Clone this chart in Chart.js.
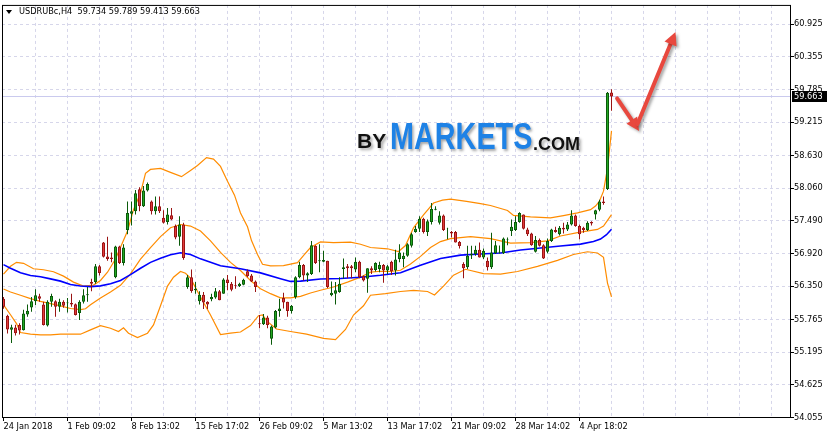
<!DOCTYPE html>
<html>
<head>
<meta charset="utf-8">
<script src="https://cdn.jsdelivr.net/npm/chart.js@4.4.1/dist/chart.umd.min.js"></script>
<style>
  html, body { margin:0; padding:0; background:#fff; }
  #wrap { position:relative; width:830px; height:439px; overflow:hidden; background:#fff; }
  #chart { position:absolute; left:0; top:0; }
  .title { position:absolute; left:19px; top:7px; font-family:'DejaVu Sans', sans-serif; font-size:8.2px; line-height:1; color:#000; white-space:pre; }
  .tri { position:absolute; left:6px; top:10px; width:0; height:0; border-left:3px solid transparent; border-right:3px solid transparent; border-top:4px solid #000; }
  .logo { position:absolute; line-height:1; font-family:'Liberation Sans', Arial, sans-serif; font-weight:bold; white-space:pre; text-shadow:2px 2px 3px rgba(0,0,0,0.35); }
</style>
</head>
<body>
<div id="wrap">
  <canvas id="chart" width="830" height="439"></canvas>
  <div class="tri"></div>
  <div class="title" id="title"></div>
  <span class="logo" style="left:357px;top:130px;font-size:21px;color:#111;">BY</span>
  <span class="logo" style="left:390px;top:118.5px;font-size:36px;color:#1e82e6;transform:scaleX(0.8);transform-origin:0 0;">MARKETS</span>
  <span class="logo" style="left:533px;top:135px;font-size:18px;color:#111;">.COM</span>
</div>
<script>
const symbol = 'USDRUBc,H4';

// H4 candles, one per bar
const candleOpen = [
  56.131,55.833,55.586,55.626,55.672,55.579,55.855,55.977,56.087,56.173,
  56.028,55.660,56.075,56.087,55.989,56.075,56.049,56.057,56.035,55.880,
  56.075,56.190,56.420,56.420,56.696,57.110,56.869,56.852,56.506,57.041,
  56.753,57.330,57.616,57.657,58.042,57.743,58.020,57.830,57.657,57.743,
  57.542,57.468,57.588,57.399,57.214,57.426,56.334,56.506,56.277,56.087,
  56.201,56.075,56.121,56.149,56.259,56.218,56.466,56.391,56.368,56.351,
  56.373,56.610,56.536,56.432,55.700,55.683,55.804,55.431,55.626,55.914,
  56.144,56.075,55.914,56.161,56.506,56.718,56.536,56.563,57.053,56.783,
  56.777,56.794,56.190,56.218,56.247,56.650,56.696,56.696,56.639,56.777,
  56.524,56.477,56.662,56.632,56.650,56.718,56.622,56.777,56.622,56.822,
  56.822,56.881,57.053,57.295,57.352,57.525,57.295,57.468,57.685,57.456,
  57.582,57.347,57.295,57.295,57.122,56.736,56.679,56.891,56.909,56.984,
  56.852,56.794,56.679,56.926,56.938,56.926,57.162,57.312,57.330,57.468,
  57.599,57.340,57.271,56.950,57.157,57.064,56.950,57.140,57.330,57.254,
  57.370,57.340,57.426,57.582,57.398,57.370,57.330,57.468,57.599,57.685,
  57.830,58.048,59.734
];
const candleHigh = [
  56.161,55.850,55.677,55.677,55.700,55.937,56.028,56.161,56.294,56.218,
  56.075,56.104,56.218,56.104,56.131,56.104,56.144,56.218,56.045,56.104,
  56.294,56.334,56.477,56.736,56.718,57.122,57.214,56.938,57.053,57.053,
  57.081,57.830,57.830,58.030,58.077,58.099,58.158,57.847,57.916,57.916,
  57.675,57.715,57.715,57.426,57.571,57.456,56.546,56.639,56.420,56.259,
  56.247,56.087,56.218,56.316,56.282,56.489,56.546,56.420,56.524,56.408,
  56.477,56.639,56.563,56.449,55.845,55.862,55.833,55.660,55.931,56.131,
  56.235,56.075,56.018,56.524,56.777,56.736,56.593,57.140,57.064,57.081,
  56.967,56.794,56.432,56.420,56.506,56.834,56.736,56.718,56.852,56.794,
  56.536,56.662,56.696,56.765,56.777,56.736,56.718,56.794,56.984,57.081,
  56.938,57.099,57.283,57.398,57.571,57.542,57.513,57.801,57.744,57.657,
  57.599,57.370,57.312,57.312,57.140,56.765,57.053,57.053,57.053,57.110,
  57.007,56.852,57.283,57.140,57.059,57.197,57.197,57.513,57.571,57.640,
  57.599,57.370,57.283,57.226,57.180,57.081,57.180,57.352,57.386,57.398,
  57.456,57.468,57.675,57.599,57.426,57.386,57.485,57.485,57.685,57.858,
  57.916,59.740,59.789
];
const candleLow = [
  55.954,55.522,55.355,55.488,55.505,55.574,55.816,55.902,56.018,56.075,
  55.660,55.643,55.989,55.816,55.902,55.971,55.890,55.989,55.838,55.759,
  56.045,56.075,56.259,56.391,56.536,56.852,56.794,56.765,56.489,56.736,
  56.708,57.254,57.409,57.599,57.657,57.731,58.003,57.599,57.599,57.628,
  57.444,57.426,57.502,57.167,57.053,56.812,56.304,56.235,56.218,56.028,
  55.949,55.949,56.087,56.131,56.104,56.218,56.277,56.259,56.304,56.334,
  56.363,56.506,56.420,56.247,55.614,55.672,55.614,55.327,55.614,55.816,
  55.959,55.816,55.873,56.131,56.489,56.449,56.420,56.546,56.736,56.593,
  56.765,56.316,56.173,56.028,56.235,56.477,56.489,56.489,56.593,56.489,
  56.432,56.235,56.563,56.605,56.593,56.408,56.563,56.546,56.536,56.765,
  56.679,56.864,57.024,57.283,57.295,57.271,57.226,57.426,57.675,57.426,
  57.312,57.167,57.197,57.110,57.007,56.489,56.650,56.822,56.881,56.852,
  56.822,56.622,56.650,56.909,56.921,56.909,57.064,57.226,57.312,57.456,
  57.340,57.226,57.053,56.938,57.041,56.822,56.926,57.122,57.283,57.236,
  57.271,57.312,57.409,57.386,57.167,57.283,57.312,57.409,57.513,57.657,
  57.772,58.030,59.413
];
const candleClose = [
  55.989,55.592,55.631,55.528,55.574,55.873,55.919,56.087,56.190,56.131,
  55.672,56.075,56.178,55.989,56.075,56.006,56.066,56.028,55.845,56.075,
  56.190,56.208,56.391,56.696,56.581,56.864,56.822,56.822,57.041,56.753,
  57.024,57.628,57.657,57.973,57.743,58.020,58.134,57.657,57.743,57.657,
  57.456,57.599,57.513,57.197,57.426,56.840,56.506,56.265,56.304,56.201,
  56.063,56.028,56.161,56.259,56.104,56.466,56.403,56.287,56.356,56.391,
  56.460,56.524,56.432,56.334,55.683,55.804,55.672,55.643,55.914,55.959,
  56.063,55.914,56.006,56.506,56.718,56.536,56.575,57.064,56.753,56.800,
  56.805,56.334,56.235,56.277,56.391,56.679,56.662,56.662,56.777,56.506,
  56.449,56.662,56.622,56.753,56.718,56.622,56.696,56.610,56.817,56.938,
  56.881,57.081,57.254,57.352,57.525,57.295,57.485,57.697,57.702,57.582,
  57.330,57.352,57.271,57.110,57.050,56.662,56.881,56.909,56.984,56.852,
  56.967,56.679,56.938,57.064,56.950,57.180,57.167,57.386,57.468,57.628,
  57.352,57.254,57.064,57.157,57.053,56.834,57.140,57.340,57.295,57.370,
  57.340,57.426,57.582,57.398,57.254,57.330,57.456,57.444,57.675,57.830,
  57.801,59.729,59.663
];

// indicator lines: bar position and value
const maBars = [0,1.75,4.25,6.75,9.25,11.75,14.25,16.75,19.25,21.75,24.25,26.75,29.25,31.75,34.25,36.75,39.25,41.75,44.25,46.75,49.25,54.25,59.25,64.25,69.25,71.75,74.25,79.25,84.25,89.25,94.25,99.25,104.25,109.25,114.25,119.25,124.25,129.25,134.25,139.25,144.25,147.5,149.25,150.75,152];
const maValues = [56.725,56.662,56.584,56.536,56.515,56.477,56.437,56.377,56.351,56.342,56.354,56.391,56.449,56.550,56.662,56.765,56.838,56.898,56.933,56.903,56.826,56.705,56.653,56.581,56.480,56.432,56.437,56.475,56.484,56.506,56.541,56.584,56.713,56.834,56.891,56.912,56.929,56.981,57.015,57.050,57.084,57.128,57.171,57.248,57.343];

const upperBars = [0,1.75,3.25,5,7.5,10,12.5,15,17.5,20,22.5,24.25,26,28,31,32.5,34.25,35.5,36.75,39.25,41.75,44.5,46.75,48.5,50.75,52.5,54.25,56,57.75,59.25,61,62,63.5,64.75,66.75,70,73.5,75.25,76.75,79.25,82.5,86.75,89.25,91.75,96,98.75,100.5,102.5,105,107.5,109.75,111.75,115.75,119.25,121.75,126,127.5,131.75,136.75,140,143.5,146.75,148,149,150,151,152];
const upperValues = [56.558,56.696,56.765,56.748,56.653,56.636,56.601,56.524,56.420,56.351,56.368,56.449,56.593,56.822,57.312,57.685,57.973,58.319,58.388,58.405,58.336,58.262,58.370,58.457,58.595,58.569,58.440,58.180,57.939,57.628,57.386,57.145,56.903,56.731,56.705,56.708,56.760,56.903,57.024,57.122,57.110,57.119,57.081,57.024,57.002,56.955,57.059,57.369,57.594,57.801,57.853,57.870,57.830,57.792,57.758,57.671,57.585,57.559,57.542,57.582,57.628,57.685,57.749,57.835,58.008,58.405,59.061];

const midBars = [0,1.75,4.25,6.75,9.25,11.75,14.25,16.75,19.25,20.5,21.75,24.25,26.75,29.25,31.75,34.25,36.75,39.25,41.75,44.25,46.75,49.25,51.75,54.25,56.75,59.25,61.75,64.25,66.75,69.25,71.75,74.25,76.75,79.25,82.5,86,89.25,91.75,94.25,96.75,99.25,101.75,104.25,106.75,109.25,111.75,116.75,121.75,126.75,131.75,136,139.25,143.5,148.5,150,151,152];
const midValues = [56.299,56.247,56.190,56.131,56.083,56.045,56.006,55.959,55.940,55.954,56.023,56.144,56.247,56.363,56.563,56.822,57.024,57.214,57.369,57.426,57.399,57.312,57.140,56.938,56.765,56.622,56.449,56.304,56.218,56.144,56.144,56.170,56.230,56.277,56.334,56.420,56.506,56.593,56.610,56.605,56.627,56.736,56.869,57.024,57.128,57.179,57.214,57.179,57.102,57.110,57.140,57.226,57.283,57.340,57.399,57.497,57.599];

const lowerBars = [0,1.75,3.25,4.25,6.75,9.25,11.75,14.25,19.25,21.75,24.25,26.75,28.75,30,31.25,33.5,36,37.5,39.25,41,42.5,44.25,45.5,46.75,49.25,51.75,54.25,56.75,59.25,61.75,63.75,64.75,66,68.25,71.75,75.75,80,83,85.5,87.5,90,91.75,95.5,99.25,102.5,106,107.75,110,112.5,115.5,120,124.25,128.5,133.5,138.5,142.5,146,148.5,150,151,152];
const lowerValues = [56.023,55.850,55.695,55.540,55.510,55.500,55.500,55.510,55.510,55.586,55.660,55.614,55.557,55.621,55.528,55.453,55.528,55.672,56.006,56.351,56.506,56.605,56.575,56.489,56.161,55.845,55.505,55.528,55.548,55.660,55.833,55.845,55.729,55.600,55.557,55.510,55.436,55.414,55.592,55.845,56.006,56.190,56.218,56.256,56.277,56.256,56.196,56.351,56.541,56.644,56.567,56.558,56.605,56.696,56.800,56.903,56.950,56.929,56.852,56.403,56.161];

// axis labels
const yTickValues = [54.055,54.625,55.195,55.765,56.350,56.920,57.490,58.060,58.630,59.215,59.785,60.355,60.925];
const xTickLabels = ['24 Jan 2018','1 Feb 09:02','8 Feb 13:02','15 Feb 17:02','26 Feb 09:02','5 Mar 13:02','13 Mar 17:02','21 Mar 09:02','28 Mar 14:02','4 Apr 18:02'];

// hand drawn arrow on the picture, in bar / price units
const arrowLegs = [
  [153.4, 59.630, 158.9, 59.061],
  [158.5, 59.182, 168.0, 60.787]
];

const n = candleOpen.length;
const last = n - 1;
document.getElementById('title').textContent =
  symbol + '  ' + [candleOpen[last], candleHigh[last], candleLow[last], candleClose[last]].map(v => v.toFixed(3)).join(' ');

const upFill = '#22a822', upEdge = '#0a5a0a';
const downFill = '#e23b3b', downEdge = '#9a1414';
const gridColor = '#d6d6ea';
const bandColor = '#ff8c00';
const axisFont = { family: 'DejaVu Sans', size: 8.2 };

const barIdx = candleOpen.map((_, i) => i);
const isUp = i => candleClose[i] >= candleOpen[i];

const xLabelMap = new Map(xTickLabels.map((t, k) => [k * 16, t]));
const xGridBars = [];
for (let b = 0; b <= 192; b += 8) xGridBars.push(b);

function pts(bars, vals) {
  return bars.map((b, k) => ({ x: b, y: vals[k] }));
}

function lineSet(label, bars, vals, color, width, order) {
  return {
    type: 'line', label, order,
    data: pts(bars, vals),
    borderColor: color, borderWidth: width,
    pointRadius: 0, tension: 0, fill: false
  };
}

function drawArrow(ctx, x1, y1, x2, y2) {
  const ang = Math.atan2(y2 - y1, x2 - x1);
  const head = 13, half = 6.5;
  const bx = x2 - head * Math.cos(ang), by = y2 - head * Math.sin(ang);
  ctx.beginPath();
  ctx.moveTo(x1, y1);
  ctx.lineTo(bx, by);
  ctx.stroke();
  ctx.beginPath();
  ctx.moveTo(x2, y2);
  ctx.lineTo(bx + half * Math.sin(ang), by - half * Math.cos(ang));
  ctx.lineTo(bx - half * Math.sin(ang), by + half * Math.cos(ang));
  ctx.closePath();
  ctx.fill();
}

const chartDecor = {
  id: 'chartDecor',
  beforeDatasetsDraw(chart) {
    const { ctx, chartArea: a, scales: { y } } = chart;
    const py = Math.round(y.getPixelForValue(candleClose[last])) + 0.5;
    ctx.save();
    ctx.strokeStyle = '#cacaee';
    ctx.lineWidth = 1;
    ctx.beginPath();
    ctx.moveTo(a.left, py);
    ctx.lineTo(a.right, py);
    ctx.stroke();
    ctx.restore();
  },
  afterDraw(chart) {
    const { ctx, chartArea: a, scales: { x, y } } = chart;
    ctx.save();
    // frame
    ctx.strokeStyle = '#000';
    ctx.lineWidth = 1;
    ctx.strokeRect(a.left + 0.5, a.top + 0.5, a.right - a.left - 1, a.bottom - a.top - 1);

    // red arrow
    ctx.strokeStyle = '#e8483e';
    ctx.fillStyle = '#e8483e';
    ctx.lineWidth = 4;
    ctx.lineCap = 'round';
    ctx.shadowColor = 'rgba(0,0,0,0.35)';
    ctx.shadowBlur = 3;
    ctx.shadowOffsetX = 2;
    ctx.shadowOffsetY = 2;
    arrowLegs.forEach(l => {
      drawArrow(ctx, x.getPixelForValue(l[0]), y.getPixelForValue(l[1]),
                     x.getPixelForValue(l[2]), y.getPixelForValue(l[3]));
    });
    ctx.restore();

    // current price box
    ctx.save();
    const py = Math.round(y.getPixelForValue(candleClose[last]));
    ctx.fillStyle = '#000';
    ctx.fillRect(a.right + 1, py - 5, 35, 11);
    ctx.fillStyle = '#fff';
    ctx.font = '8.2px "DejaVu Sans"';
    ctx.textBaseline = 'middle';
    ctx.fillText(candleClose[last].toFixed(3), a.right + 3, py + 0.5);
    ctx.restore();
  }
};

new Chart(document.getElementById('chart'), {
  type: 'line',
  data: {
    datasets: [
      {
        type: 'bar', label: 'body', order: 0, grouped: false,
        data: barIdx.map(i => ({ x: i, y: [candleOpen[i], candleClose[i]] })),
        backgroundColor: barIdx.map(i => isUp(i) ? upFill : downFill),
        borderColor: barIdx.map(i => isUp(i) ? upEdge : downEdge),
        borderWidth: 1, borderSkipped: false, barThickness: 3, inflateAmount: 0
      },
      {
        type: 'bar', label: 'wick', order: 1, grouped: false,
        data: barIdx.map(i => ({ x: i, y: [candleLow[i], candleHigh[i]] })),
        backgroundColor: barIdx.map(i => isUp(i) ? upEdge : downEdge),
        borderWidth: 0, barThickness: 1, inflateAmount: 0
      },
      lineSet('MA', maBars, maValues, '#0000ff', 1.6, 2),
      lineSet('BB upper', upperBars, upperValues, bandColor, 1.2, 3),
      lineSet('BB middle', midBars, midValues, bandColor, 1.2, 3),
      lineSet('BB lower', lowerBars, lowerValues, bandColor, 1.2, 3)
    ]
  },
  options: {
    responsive: false,
    animation: false,
    devicePixelRatio: 1,
    layout: { padding: { left: 2, top: 0, right: 0, bottom: 0 } },
    plugins: { legend: { display: false }, tooltip: { enabled: false } },
    scales: {
      x: {
        type: 'linear', min: -0.375, max: 196.875, offset: false,
        afterBuildTicks: s => { s.ticks = xGridBars.map(v => ({ value: v })); },
        afterFit: s => { s.height = 21; },
        grid: {
          offset: false,
          color: c => (c.tick && c.tick.value === 0) ? 'rgba(0,0,0,0)' : gridColor,
          drawTicks: true, tickLength: 3, tickWidth: 1,
          tickColor: c => (c.tick && xLabelMap.has(c.tick.value)) ? '#000' : 'rgba(0,0,0,0)'
        },
        border: { display: false, dash: [3, 3] },
        ticks: {
          autoSkip: false, maxRotation: 0, minRotation: 0, align: 'start',
          padding: 1, color: '#000', font: axisFont,
          callback: v => xLabelMap.get(v) || ''
        }
      },
      y: {
        type: 'linear', position: 'right', min: 54.0464, max: 61.2616, beginAtZero: false,
        afterBuildTicks: s => { s.ticks = yTickValues.map(v => ({ value: v })); },
        afterFit: s => { s.width = 39; },
        grid: { color: gridColor, drawTicks: true, tickLength: 3, tickWidth: 1, tickColor: '#000' },
        border: { display: false, dash: [3, 3] },
        ticks: { padding: 0, color: '#000', font: axisFont, callback: v => v.toFixed(3) }
      }
    }
  },
  plugins: [chartDecor]
});
</script>
</body>
</html>
